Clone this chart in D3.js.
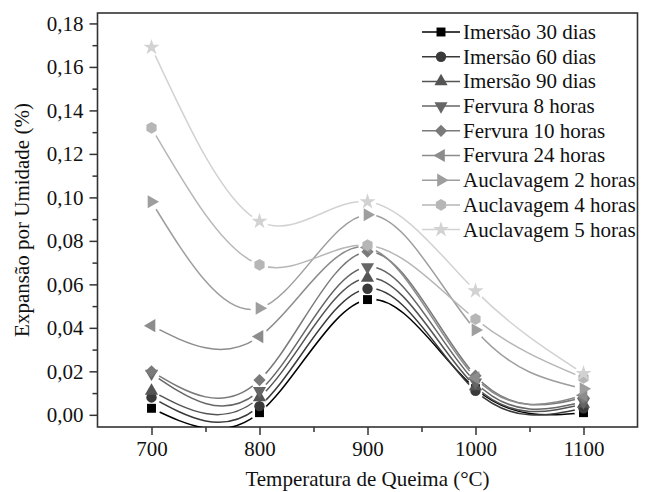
<!DOCTYPE html>
<html>
<head>
<meta charset="utf-8">
<script src="https://cdn.jsdelivr.net/npm/d3@7"></script>
</head>
<body style="margin:0;background:#fff">
<svg id="chart" width="646" height="492" style="display:block"></svg>
<script>
// ---- Data ----
const temps = [700, 800, 900, 1000, 1100];
const seriesNames = [
  "Imersão 30 dias", "Imersão 60 dias", "Imersão 90 dias",
  "Fervura 8 horas", "Fervura 10 horas", "Fervura 24 horas",
  "Auclavagem 2 horas", "Auclavagem 4 horas", "Auclavagem 5 horas"
];
const imersao30 = [0.003, 0.001, 0.053, 0.012, 0.001];
const imersao60 = [0.008, 0.004, 0.058, 0.011, 0.003];
const imersao90 = [0.011, 0.008, 0.063, 0.013, 0.005];
const fervura8  = [0.019, 0.011, 0.068, 0.015, 0.006];
const fervura10 = [0.020, 0.016, 0.075, 0.018, 0.008];
const fervura24 = [0.041, 0.036, 0.077, 0.017, 0.009];
const auclav2   = [0.098, 0.049, 0.092, 0.039, 0.012];
const auclav4   = [0.132, 0.069, 0.078, 0.044, 0.017];
const auclav5   = [0.169, 0.089, 0.098, 0.057, 0.019];
const seriesValues = [imersao30, imersao60, imersao90, fervura8, fervura10, fervura24, auclav2, auclav4, auclav5];
const yTicks = [0, 0.02, 0.04, 0.06, 0.08, 0.10, 0.12, 0.14, 0.16, 0.18];
const xTicks = [700, 800, 900, 1000, 1100];
const xTitle = "Temperatura de Queima (°C)";
const yTitle = "Expansão por Umidade (%)";

// ---- Styles ----
const FONT = '"Liberation Serif"';
const FS = "21px";
const colors = ["#000000", "#3a3a3a", "#545454", "#666666", "#7a7a7a", "#8c8c8c", "#9e9e9e", "#b6b6b6", "#d2d2d2"];

const hexagon = {
  draw(ctx, size) {
    const r = Math.sqrt(size / (1.5 * Math.sqrt(3)));
    for (let i = 0; i < 6; i++) {
      const a = Math.PI / 6 + i * Math.PI / 3;
      const px = r * Math.cos(a), py = r * Math.sin(a);
      if (i === 0) ctx.moveTo(px, py); else ctx.lineTo(px, py);
    }
    ctx.closePath();
  }
};
const markers = [
  {type: d3.symbolSquare, rot: 0, size: 80},
  {type: d3.symbolCircle, rot: 0, size: 85},
  {type: d3.symbolTriangle, rot: 0, size: 75},
  {type: d3.symbolTriangle, rot: 180, size: 75},
  {type: d3.symbolSquare, rot: 45, size: 75},
  {type: d3.symbolTriangle, rot: -90, size: 75},
  {type: d3.symbolTriangle, rot: 90, size: 75},
  {type: hexagon, rot: 0, size: 90},
  {type: d3.symbolStar, rot: 0, size: 80}
];

// ---- Layout ----
const L = 97.5, R = 637.5, T = 13, B = 427;
const svg = d3.select("#chart");
const x = d3.scaleLinear().domain([650, 1150]).range([L, R]);
const y = d3.scaleLinear().domain([-0.0056, 0.1848]).range([B, T]);

const defs = svg.append("defs");
defs.append("clipPath").attr("id", "plotclip")
  .append("rect").attr("x", L).attr("y", T).attr("width", R - L).attr("height", B - T);

const fmt = v => d3.format(".2f")(v).replace(".", ",");
const axisColor = "#333";

const styleText = sel => sel.style("font-family", FONT).style("font-size", FS).attr("fill", "#111");

// Axes
const xAxis = svg.append("g").attr("transform", `translate(0,${B})`)
  .call(d3.axisBottom(x).tickValues(xTicks).tickSize(8).tickPadding(6).tickFormat(d3.format("d")));
const xMinor = svg.append("g").attr("transform", `translate(0,${B})`)
  .call(d3.axisBottom(x).tickValues([750, 850, 950, 1050]).tickSize(5).tickFormat(""));
const yAxis = svg.append("g").attr("transform", `translate(${L},0)`)
  .call(d3.axisLeft(y).tickValues(yTicks).tickSize(8).tickPadding(6).tickFormat(fmt));
const yMinor = svg.append("g").attr("transform", `translate(${L},0)`)
  .call(d3.axisLeft(y).tickValues(d3.range(0.01, 0.18, 0.02)).tickSize(5).tickFormat(""));

[xAxis, xMinor, yAxis, yMinor].forEach(g => {
  g.select(".domain").remove();
  g.selectAll("line").attr("stroke", axisColor).attr("stroke-width", 1.5);
  g.selectAll("text").call(styleText);
});

// Frame
svg.append("rect").attr("x", L).attr("y", T).attr("width", R - L).attr("height", B - T)
  .attr("fill", "none").attr("stroke", axisColor).attr("stroke-width", 1.6);

// Titles
svg.append("text").attr("x", (L + R) / 2).attr("y", 486).attr("text-anchor", "middle")
  .call(styleText).text(xTitle);
svg.append("text").attr("transform", `translate(29,${(T + B) / 2}) rotate(-90)`)
  .attr("text-anchor", "middle").call(styleText).text(yTitle);

// Series
const line = d3.line().x(d => x(d[0])).y(d => y(d[1])).curve(d3.curveNatural);
const plot = svg.append("g").attr("clip-path", "url(#plotclip)");

seriesValues.forEach((vals, i) => {
  const pts = temps.map((t, j) => [t, vals[j]]);
  const mask = defs.append("mask").attr("id", "m" + i).attr("maskUnits", "userSpaceOnUse")
    .attr("x", 0).attr("y", 0).attr("width", 646).attr("height", 492);
  mask.append("rect").attr("x", 0).attr("y", 0).attr("width", 646).attr("height", 492).attr("fill", "white");
  mask.selectAll("circle").data(pts).join("circle")
    .attr("cx", d => x(d[0])).attr("cy", d => y(d[1])).attr("r", 9).attr("fill", "black");
  plot.append("path").datum(pts)
    .attr("d", line).attr("fill", "none").attr("stroke", colors[i]).attr("stroke-width", 1.5)
    .attr("mask", `url(#m${i})`);
});

seriesValues.forEach((vals, i) => {
  const pts = temps.map((t, j) => [t, vals[j]]);
  const m = markers[i];
  svg.append("g").selectAll("path").data(pts).join("path")
    .attr("d", d3.symbol().type(m.type).size(m.size))
    .attr("transform", d => `translate(${x(d[0])},${y(d[1])}) rotate(${m.rot})`)
    .attr("fill", colors[i]);
});

// Legend
const lg = svg.append("g");
seriesNames.forEach((name, i) => {
  const yy = 32 + i * 24.7;
  const m = markers[i];
  lg.append("line").attr("x1", 422).attr("x2", 460).attr("y1", yy).attr("y2", yy)
    .attr("stroke", colors[i]).attr("stroke-width", 1.5);
  lg.append("path").attr("d", d3.symbol().type(m.type).size(m.size))
    .attr("transform", `translate(441,${yy}) rotate(${m.rot})`).attr("fill", colors[i]);
  lg.append("text").attr("x", 463).attr("y", yy).attr("dy", "0.33em")
    .call(styleText).text(name);
});
</script>
</body>
</html>
